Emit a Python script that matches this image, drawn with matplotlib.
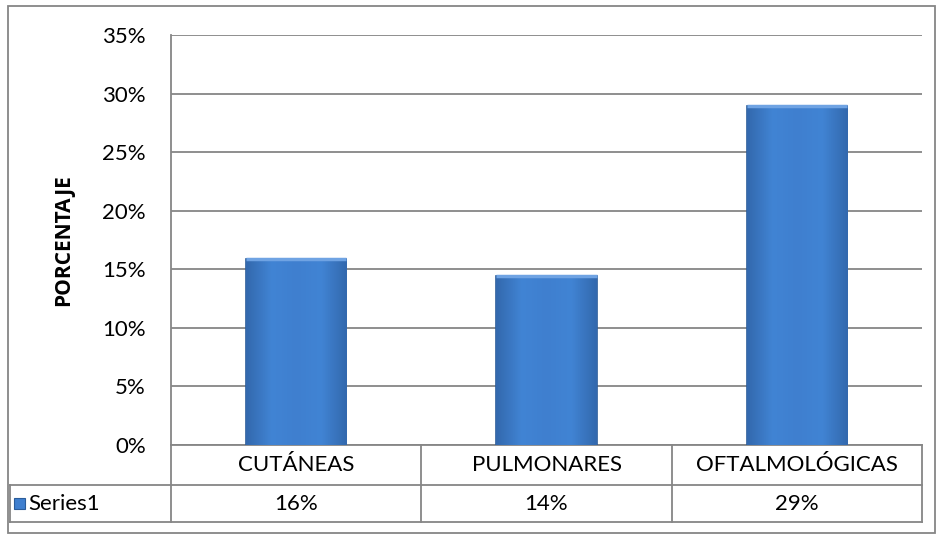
import matplotlib
matplotlib.use("Agg")
import numpy as np
import matplotlib.pyplot as plt
from matplotlib.patches import Rectangle
from matplotlib.lines import Line2D
from matplotlib.colors import LinearSegmentedColormap
from matplotlib.ticker import PercentFormatter

# data
categories = ["CUTÁNEAS", "PULMONARES", "OFTALMOLÓGICAS"]
values = [0.159, 0.144, 0.289]
table_labels = ["16%", "14%", "29%"]
series_name = "Series1"

plt.rcParams['font.family'] = ['Lato', 'DejaVu Sans']

W, H = 940, 540
fig = plt.figure(figsize=(W / 100, H / 100), dpi=100)

# plot area in pixels
left, right, top, bottom = 171, 922, 35, 445
ax = fig.add_axes([left / W, 1 - bottom / H, (right - left) / W, (bottom - top) / H])

grid_c = "#868686"
bar_face = "#3F7FCF"
bar_edge = "#2B5C9A"
fs = 16

x = list(range(len(categories)))
bars = ax.bar(x, values, width=0.4, color=bar_face, edgecolor=bar_edge, linewidth=1.2, zorder=3)

# soft gradient inside each bar (darker at the sides, like the Excel bevel)
cmap = LinearSegmentedColormap.from_list("bev", ["#3369AE", "#4184D4", "#3F7FCF", "#4184D4", "#3369AE"])
grad = np.linspace(0, 1, 64).reshape(1, -1)
for b in bars:
    bx, by = b.get_x(), b.get_y()
    im = ax.imshow(grad, cmap=cmap, aspect="auto", zorder=3.5,
                   extent=(bx, bx + b.get_width(), by, by + b.get_height()))
    im.set_clip_path(b)
    # light top bevel
    ax.plot([bx, bx + b.get_width()], [by + b.get_height()] * 2, color="#6FA3E3",
            linewidth=2.5, zorder=3.6, solid_capstyle="butt")

ax.set_xlim(-0.5, len(categories) - 0.5)
ax.set_ylim(0, 0.35)
ax.set_yticks([i * 0.05 for i in range(8)])
ax.yaxis.set_major_formatter(PercentFormatter(1.0, decimals=0))
ax.tick_params(axis="y", length=0, pad=18, labelsize=fs)
ax.set_xticks([])
ax.grid(axis="y", color=grid_c, linewidth=1.3, zorder=0)
for s in ["top", "right", "bottom"]:
    ax.spines[s].set_visible(False)
ax.spines["left"].set_color(grid_c)
ax.spines["left"].set_linewidth(1.3)

ax.set_ylabel("PORCENTAJE", fontsize=15, fontweight="bold", labelpad=20,
              family=["Open Sans", "DejaVu Sans"])

# data table under the plot (axes coordinates)
px = 1.0 / (bottom - top)
row1 = -40 * px
row2 = -77 * px
outer_left = (10 - left) / (right - left)
lk = dict(color=grid_c, linewidth=1.3, clip_on=False, transform=ax.transAxes)

ax.add_line(Line2D([0, 1], [0, 0], **lk))
ax.add_line(Line2D([outer_left, 1], [row1, row1], **lk))
ax.add_line(Line2D([outer_left, 1], [row2, row2], **lk))
ax.add_line(Line2D([outer_left, outer_left], [row1, row2], **lk))
for i in range(len(categories) + 1):
    xf = i / len(categories)
    ax.add_line(Line2D([xf, xf], [0, row2], **lk))

for i, (cat, lab) in enumerate(zip(categories, table_labels)):
    xc = (i + 0.5) / len(categories)
    ax.text(xc, row1 / 2, cat, transform=ax.transAxes, ha="center", va="center", fontsize=fs)
    ax.text(xc, (row1 + row2) / 2, lab, transform=ax.transAxes, ha="center", va="center", fontsize=fs)

# legend key in the table
ymid = (row1 + row2) / 2
key_w = 11 / (right - left)
key_h = 11 * px
kx = (14 - left) / (right - left)
ax.add_patch(Rectangle((kx, ymid - key_h / 2), key_w, key_h, transform=ax.transAxes,
                       facecolor=bar_face, edgecolor=bar_edge, linewidth=0.8, clip_on=False))
ax.text(kx + key_w + 3 / (right - left), ymid, series_name, transform=ax.transAxes,
        ha="left", va="center", fontsize=fs)

# chart border
fig.patches.append(Rectangle((8 / W, 1 - 533 / H), 927 / W, 527 / H, transform=fig.transFigure,
                             fill=False, edgecolor=grid_c, linewidth=1.3))

fig.savefig("out.png", dpi=100)
